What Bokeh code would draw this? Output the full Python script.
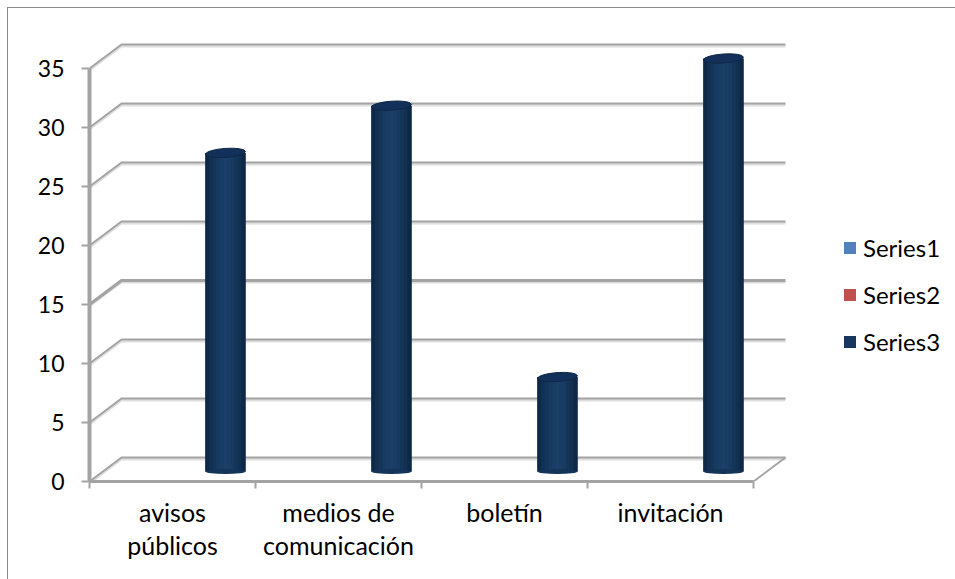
from bokeh.plotting import figure
from bokeh.embed import file_html
from bokeh.resources import INLINE
from bokeh.models import Range1d, FixedTicker, LegendItem, Legend
import numpy as np

categories = ["avisos\npúblicos", "medios de\ncomunicación", "boletín", "invitación"]
series1 = [0, 0, 0, 0]
series2 = [0, 0, 0, 0]
series3 = [27, 31, 8, 35]
y_ticks = [0, 5, 10, 15, 20, 25, 30, 35]
series_names = ["Series1", "Series2", "Series3"]
series_colors = ["#4f81bd", "#c0504d", "#17375e"]
shades = ["#0f2847", "#12304f", "#153558", "#173a60", "#1a3d66", "#1b3f69", "#1a3d66", "#173a60", "#153558", "#12304f", "#0f2847"]

FONT = "Lato"
PX_X = 166.0
PX_Y = 11.8
DX, DY = 32 / PX_X, 24 / PX_Y
BAR_W = 40 / PX_X
BAR_OFF = 0.819
BAR_BASE = 10 / PX_Y
GRID = "#a3a3a3"

p = figure(width=947, height=571, frame_width=858, frame_height=473,
           output_backend="svg", toolbar_location=None,
           x_range=Range1d(0, 858 / PX_X), y_range=Range1d(0, 473 / PX_Y),
           min_border_left=81, min_border_right=8, min_border_top=0, min_border_bottom=98,
           outline_line_color=None, background_fill_color="white", border_fill_color="white")
p.styles = {"border-left": "1px solid #8a8a8a", "border-top": "1px solid #8a8a8a",
            "margin-left": "7px", "margin-top": "7px"}
p.grid.visible = False

n = len(categories)
xs = [[0, DX, n + DX] for _ in y_ticks]
ys = [[v, v + DY, v + DY] for v in y_ticks]
widths = [3 if v == 15 else 2 for v in y_ticks]
p.multi_line(xs, [[b - 0.12 for b in y] for y in ys], line_color="#dedede", line_width=3)
p.multi_line(xs, ys, line_color=GRID, line_width=widths)
p.line([n, n + DX], [0, DY], line_color=GRID, line_width=2)

x3 = np.arange(n) + BAR_OFF
top = np.array(series3) + BAR_BASE
r1 = p.vbar(x=np.arange(n) + 0.3, top=series1, bottom=0, width=BAR_W, fill_color=series_colors[0], line_color=None)
r2 = p.vbar(x=np.arange(n) + 0.55, top=series2, bottom=0, width=BAR_W, fill_color=series_colors[1], line_color=None)
r3 = p.vbar(x=x3, top=top, bottom=BAR_BASE, width=BAR_W, fill_color=series_colors[2], line_color=None)
strip_w = BAR_W / len(shades)
for i, c in enumerate(shades):
    p.vbar(x=x3 - BAR_W / 2 + strip_w * (i + 0.5), top=top, bottom=BAR_BASE, width=strip_w * 1.1, fill_color=c, line_color=None)
p.ellipse(x=x3, y=[BAR_BASE] * n, width=40, height=5, width_units="screen", height_units="screen", fill_color="#15345a", line_color=None)
p.ellipse(x=x3, y=top, width=40, height=9, angle=0.07, width_units="screen", height_units="screen", fill_color="#12305a", line_color="#0f2847", line_width=1)

ax = p.xaxis[0]
ax.ticker = FixedTicker(ticks=[i + 0.5 for i in range(n)], minor_ticks=list(range(n + 1)))
ax.major_label_overrides = {i + 0.5: c for i, c in enumerate(categories)}
ax.bounds = (0, n)
ax.axis_line_color = GRID
ax.axis_line_width = 3
ax.major_tick_line_color = None
ax.major_tick_in = 0
ax.major_tick_out = 0
ax.minor_tick_line_color = GRID
ax.minor_tick_line_width = 2
ax.minor_tick_in = 0
ax.minor_tick_out = 7
ax.major_label_standoff = 8
ax.major_label_text_font = FONT
ax.major_label_text_font_size = "25px"
ax.major_label_text_color = "black"
ax.major_label_text_line_height = 1.1

ay = p.yaxis[0]
ay.ticker = FixedTicker(ticks=y_ticks, minor_ticks=[])
ay.bounds = (0, 35)
ay.axis_line_color = GRID
ay.axis_line_width = 4
ay.major_tick_line_color = GRID
ay.major_tick_line_width = 2
ay.major_tick_in = 0
ay.major_tick_out = 8
ay.major_label_standoff = 17
ay.major_label_text_font = FONT
ay.major_label_text_font_size = "23px"
ay.major_label_text_color = "black"

legend = Legend(items=[LegendItem(label=s, renderers=[r]) for s, r in zip(series_names, [r1, r2, r3])],
                location=(753, 125), orientation="vertical",
                label_text_font=FONT, label_text_font_size="24px", label_text_color="black",
                glyph_width=15, glyph_height=15, label_standoff=6, label_height=20,
                spacing=18, padding=0, margin=0, border_line_color=None, background_fill_color=None)
p.add_layout(legend)

open("out.html", "w").write(file_html(p, INLINE))
